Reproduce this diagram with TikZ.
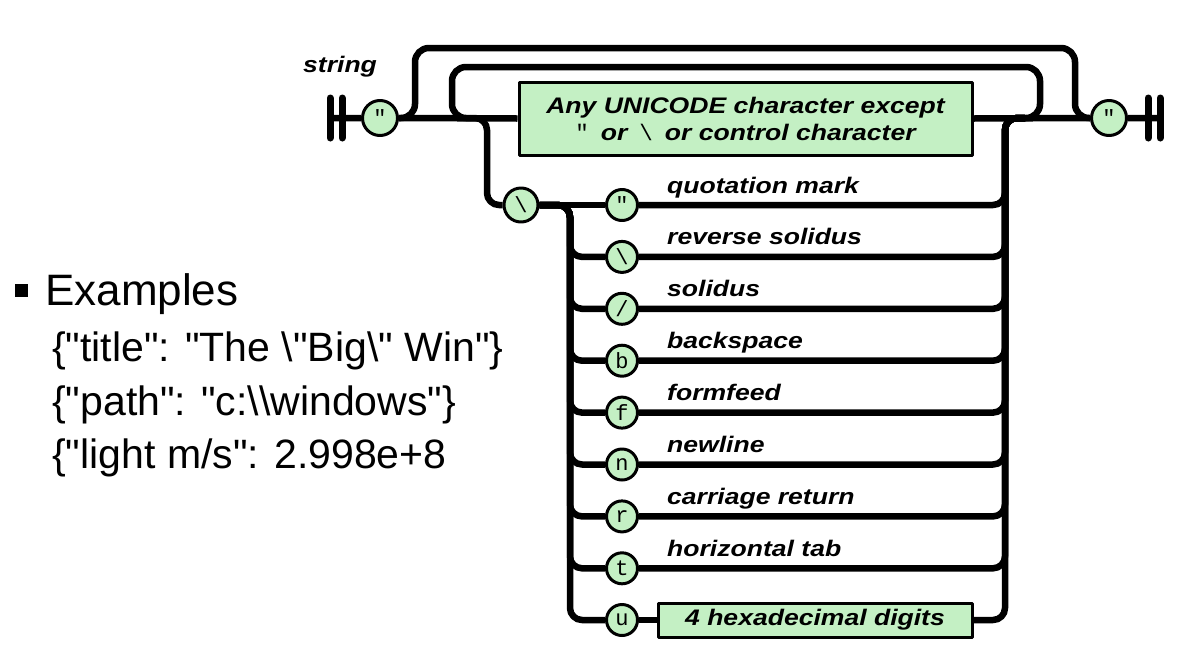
\documentclass[tikz,border=0pt]{standalone}
\usepackage{fontspec}
\newfontfamily\railfont[FakeStretch=1.18]{Liberation Sans}
\newfontfamily\monofont{Liberation Mono}
\newfontfamily\exfont{Liberation Sans}
\definecolor{railgreen}{RGB}{196,240,196}
\tikzset{
  rail/.style={line width=6.5pt,line cap=butt},
  bar/.style={line width=7pt},
  term/.style={circle,draw,line width=3pt,fill=railgreen,inner sep=0pt,minimum size=31pt,font=\monofont\fontsize{22}{22}\selectfont},
  bigterm/.style={term,minimum size=35pt},
  tbox/.style={draw,line width=3pt,fill=railgreen,inner sep=0pt,align=center,font=\railfont\bfseries\itshape\fontsize{22.5}{27}\selectfont},
  lbl/.style={anchor=base west,inner sep=0pt,font=\railfont\bfseries\itshape\fontsize{22.5}{27}\selectfont},
  ex/.style={anchor=base west,inner sep=0pt,font=\exfont\fontsize{41}{41}\selectfont}
}
\begin{document}
\begin{tikzpicture}[line cap=round,line join=round,x=1pt,y=-1pt]
\useasboundingbox (0,0) rectangle (1177,646);
\coordinate (beg) at (330,118);
\coordinate (fin) at (1160,118);
\coordinate (oL) at (415,48);
\coordinate (oR) at (1075,48);
\coordinate (iL) at (452,67);
\coordinate (iR) at (1040,67);
\coordinate (jl) at (470,118);
\coordinate (jr) at (1025,118);
\coordinate (eD) at (487,205);
\coordinate (eL) at (570,205);
\coordinate (eR) at (1005,118);
\node[lbl] (title) at (303,72) {string};
\node[bigterm] (sq) at (380,118) {"};
\node[bigterm] (eq) at (1109,118) {"};
\node[tbox,minimum width=453pt,minimum height=73pt] (anyc) at (745.5,118.5)
  {Any UNICODE character except\\{\monofont\mdseries\upshape "}\hspace{12pt}or\hspace{12pt}{\monofont\mdseries\upshape\textbackslash}\hspace{12pt}or control character};
\node[bigterm,minimum size=34pt] (bs) at (521,205) {\textbackslash};
\draw[bar] (beg) ++(0,-20) -- ++(0,40) ++(12,-40) -- ++(0,40);
\draw[bar] (fin) ++(0,-20) -- ++(0,40) ++(-12,-40) -- ++(0,40);
\draw[rail] (beg) -- (sq.west) (sq.east) -- (anyc.west) (anyc.east) -- (eq.west) (eq.east) -- (fin);
\draw[rail,rounded corners=14pt] (sq.east) -| (oL) -- (oR) |- (eq.west);
\draw[rail,rounded corners=14pt] (jr) -| (iR) -- (iL) |- (jl);
\draw[rail,rounded corners=12pt] (jl) -| (eD) -- (bs.west);
\foreach \ch/\lab [count=\k] in {"/quotation mark,\textbackslash/reverse solidus,{/}/solidus,b/backspace,f/formfeed,n/newline,r/carriage return,t/horizontal tab}
{
\pgfmathsetmacro\ry{205+51.9*(\k-1)}
\node[term] (c\k) at (622,\ry) {\ch};
\node[lbl] (l\k) at (667,{\ry-12}) {\lab};
\ifnum\k>1 \draw[rail,rounded corners=12pt] (bs.east) -- (eL) |- (c\k.west); \fi
\draw[rail,rounded corners=12pt] (c\k.east) -| (eR) -- (jr);
}
\draw[rail] (bs.east) -- (c1.west);
\node[term] (c9) at (622,620) {u};
\node[tbox,minimum width=314pt,minimum height=34pt] (hex) at (815,620) {4 hexadecimal digits};
\draw[rail,rounded corners=12pt] (bs.east) -- (eL) |- (c9.west);
\draw[rail] (c9.east) -- (hex.west);
\draw[rail,rounded corners=12pt] (hex.east) -| (eR) -- (jr);
%\node[lbl] at (667,608) {unicode};
\node[fill,minimum size=13pt,inner sep=0pt] (blt) at (21.5,290.5) {};
\node[ex,font=\exfont\fontsize{44}{44}\selectfont] (exh) at (45,305) {Examples};
\node[ex] (ex1) at (52,361) {\{"title": "The \textbackslash"Big\textbackslash" Win"\}};
\node[ex] (ex2) at (52,415) {\{"path": "c:\textbackslash\textbackslash windows"\}};
\node[ex] (ex3) at (52,468) {\{"light m/s": 2.998e+8};
\end{tikzpicture}
\end{document}
